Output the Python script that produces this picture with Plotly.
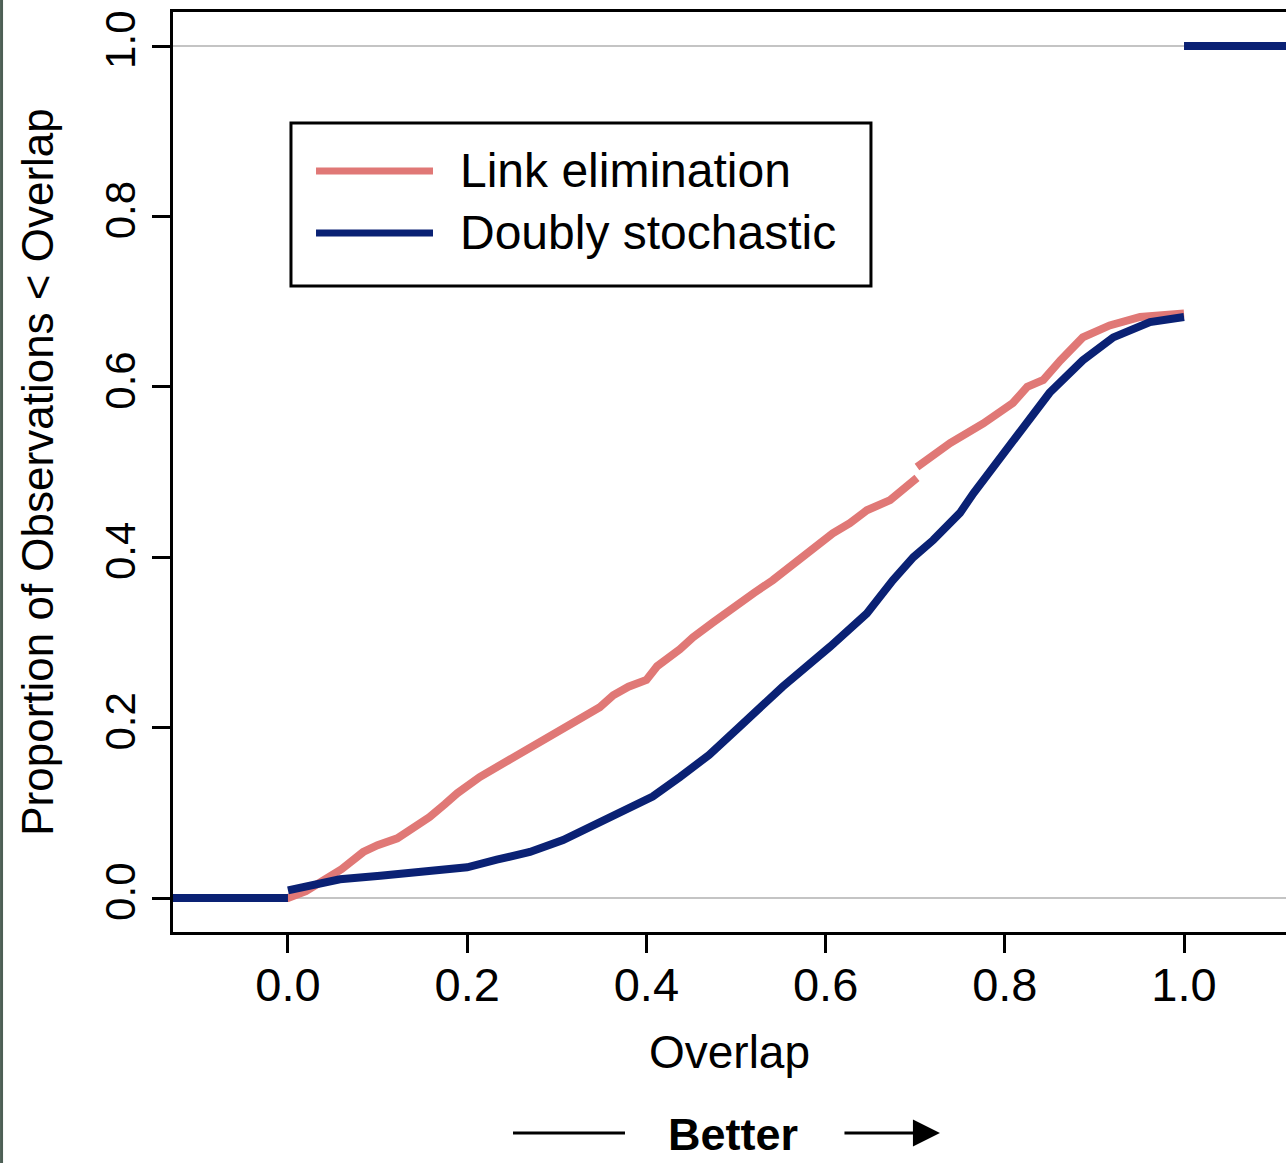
import plotly.graph_objects as go

# ---- data ----
series_names = ["Link elimination", "Doubly stochastic"]
series_colors = ["#e07876", "#0a2174"]

link_x = [-0.2, 0.0, 0.02, 0.04, 0.06, 0.084, 0.1, 0.122, 0.14, 0.158, 0.175, 0.189,
          0.214, 0.23, 0.251, 0.27, 0.289, 0.31, 0.326, 0.348, 0.363, 0.38, 0.40,
          0.412, 0.4375, 0.452, 0.475, 0.497, 0.52, 0.541, 0.56, 0.579, 0.608,
          0.627, 0.646, 0.672, 0.702, None, 0.702, 0.72, 0.739, 0.776, 0.809,
          0.825, 0.843, 0.862, 0.887, 0.917, 0.951, 1.0, None, 1.0, 1.3]
link_y = [0.0, 0.0, 0.008, 0.022, 0.034, 0.054, 0.062, 0.070, 0.082, 0.095, 0.110, 0.123,
          0.142, 0.152, 0.165, 0.177, 0.189, 0.202, 0.212, 0.224, 0.238, 0.248, 0.256,
          0.272, 0.292, 0.306, 0.324, 0.342, 0.358, 0.373, 0.389, 0.405, 0.428,
          0.440, 0.455, 0.467, 0.493, None, 0.506, 0.520, 0.534, 0.557, 0.581,
          0.600, 0.608, 0.631, 0.658, 0.672, 0.682, 0.686, None, 1.0, 1.0]

doubly_x = [-0.2, 0.0, None, 0.0, 0.028, 0.058, 0.103, 0.158, 0.2, 0.233, 0.27, 0.307,
            0.345, 0.382, 0.407, 0.4375, 0.47, 0.504, 0.552, 0.605, 0.613, 0.646,
            0.675, 0.698, 0.72, 0.75, 0.765, 0.787, 0.814, 0.85, 0.887, 0.921,
            0.962, 1.0, None, 1.0, 1.3]
doubly_y = [0.0, 0.0, None, 0.009, 0.015, 0.022, 0.026, 0.031, 0.036, 0.045, 0.054, 0.068,
            0.088, 0.107, 0.119, 0.142, 0.168, 0.201, 0.248, 0.295, 0.303, 0.334,
            0.373, 0.400, 0.420, 0.452, 0.475, 0.506, 0.541, 0.593, 0.631, 0.658,
            0.676, 0.682, None, 1.0, 1.0]

x_ticks = [0.0, 0.2, 0.4, 0.6, 0.8, 1.0]
x_tick_labels = ["0.0", "0.2", "0.4", "0.6", "0.8", "1.0"]
y_ticks = [0.0, 0.2, 0.4, 0.6, 0.8, 1.0]
y_tick_labels = ["0.0", "0.2", "0.4", "0.6", "0.8", "1.0"]
ref_lines_y = [0.0, 1.0]

FONT = "Liberation Sans, Arial, Helvetica, sans-serif"

fig = go.Figure()
for name, color, xs, ys in zip(series_names, series_colors,
                               [link_x, doubly_x], [link_y, doubly_y]):
    fig.add_trace(go.Scatter(x=xs, y=ys, mode="lines", name=name,
                             line=dict(color=color, width=8),
                             connectgaps=False, showlegend=False))

# grey reference lines at 0 and 1
for yv in ref_lines_y:
    fig.add_shape(type="line", xref="paper", x0=0, x1=1, yref="y", y0=yv, y1=yv,
                  line=dict(color="#c4c4c4", width=2), layer="below")

# manual legend (box, line samples, labels)
fig.add_shape(type="rect", xref="paper", yref="paper", x0=0.1060, x1=0.6271,
              y0=0.7022, y1=0.8793, line=dict(color="black", width=3),
              fillcolor="white", layer="above")
leg_y = [0.8272, 0.7598]
for name, color, ly in zip(series_names, series_colors, leg_y):
    fig.add_shape(type="line", xref="paper", yref="paper", x0=0.1285, x1=0.2336,
                  y0=ly, y1=ly, line=dict(color=color, width=7), layer="above")
    fig.add_annotation(xref="paper", yref="paper", x=0.2561, y=ly, text=name,
                       showarrow=False, xanchor="left", yanchor="middle",
                       font=dict(family=FONT, size=48, color="black"))

# "Better" indicator below the axis
fig.add_shape(type="line", xref="paper", yref="paper", x0=0.3055, x1=0.4061,
              y0=-0.2185, y1=-0.2185, line=dict(color="black", width=3))
fig.add_annotation(xref="paper", yref="paper", x=0.6891, y=-0.2185,
                   ax=-97, ay=0, text="", showarrow=True, arrowhead=2,
                   arrowsize=1.8, arrowwidth=3, arrowcolor="black")
fig.add_annotation(xref="paper", yref="paper", x=0.5031, y=-0.2196, text="<b>Better</b>",
                   showarrow=False, xanchor="center", yanchor="middle",
                   font=dict(family=FONT, size=45, color="black"))

# thin dark strip on the left edge
fig.add_shape(type="rect", xref="paper", yref="paper", x0=-0.1554, x1=-0.1527,
              y0=-0.26, y1=1.02, line=dict(width=0), fillcolor="#4d5f55")

fig.update_layout(
    width=1286, height=1163,
    margin=dict(l=173, r=0, t=12, b=231),
    paper_bgcolor="white", plot_bgcolor="white",
    font=dict(family=FONT, color="black"),
    showlegend=False,
    xaxis=dict(range=[-0.1283, 1.1138], tickvals=x_ticks, ticktext=x_tick_labels,
               ticks="outside", ticklen=18, tickwidth=3, tickcolor="black",
               showline=True, linecolor="black", linewidth=3, mirror=True,
               showgrid=False, zeroline=False, ticklabelstandoff=-8,
               tickfont=dict(family=FONT, size=47),
               title=dict(text="Overlap", font=dict(family=FONT, size=46), standoff=26)),
    yaxis=dict(range=[-0.0399, 1.0399], tickvals=y_ticks, ticktext=y_tick_labels,
               ticks="outside", ticklen=18, tickwidth=3, tickcolor="black",
               showline=True, linecolor="black", linewidth=3, mirror=False,
               showgrid=False, zeroline=False, tickangle=-90,
               tickfont=dict(family=FONT, size=42),
               title=dict(text="Proportion of Observations < Overlap",
                          font=dict(family=FONT, size=44), standoff=30)),
)

fig.write_html("out.html")
